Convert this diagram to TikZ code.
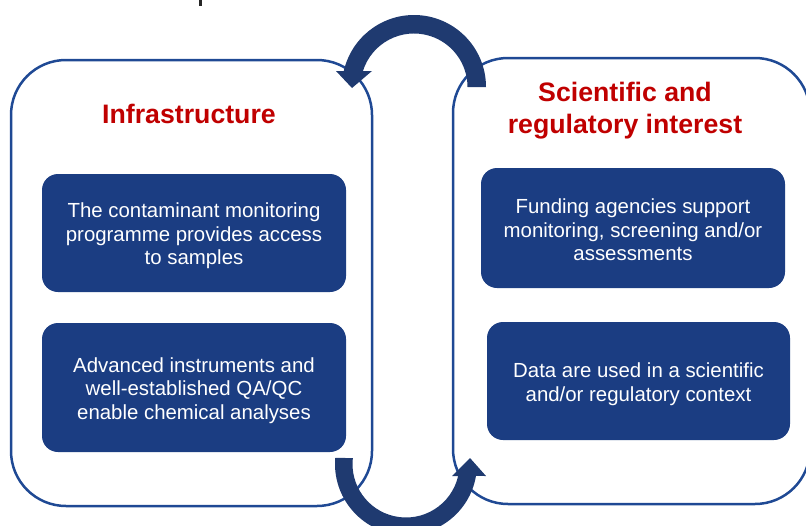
\documentclass[tikz,border=0pt]{standalone}
\usepackage{fontspec}
\setmainfont{Liberation Sans}
\usetikzlibrary{calc}
\definecolor{frameblue}{HTML}{1F4994}
\definecolor{boxblue}{HTML}{1B3D82}
\definecolor{arrowblue}{HTML}{1F3A70}
\definecolor{titlered}{HTML}{C00000}
\begin{document}
\begin{tikzpicture}[x=1pt,y=-1pt,
  frame/.style={draw=frameblue, line width=2.5pt, rounded corners=55pt, inner sep=0pt},
  infobox/.style={fill=boxblue, rounded corners=16pt, inner sep=0pt},
  infotext/.style={text=white, align=center, inner sep=0pt,
    font=\fontsize{20.4}{23.5}\selectfont},
  title/.style={text=titlered, align=center, font=\fontsize{26.7}{32}\selectfont\bfseries}]
\useasboundingbox (0,0) rectangle (806,525);
\clip (0,0) rectangle (806,525);
% outer frames
\node[frame, minimum width=361pt, minimum height=446pt] (infra) at (191.5,283) {};
\node[frame, minimum width=357pt, minimum height=446pt] (sci) at (631.5,281) {};
% titles
\node[title] (infratitle) at (189,114) {Infrastructure};
\node[title] (scititle) at (625,111) {Scientific and\\regulatory interest};
% inner boxes
\node[infobox, minimum width=304pt, minimum height=118pt] (samples) at (194,233) {};
\node[infobox, minimum width=304pt, minimum height=129pt] (instr) at (194,387.5) {};
\node[infobox, minimum width=304pt, minimum height=120pt] (funding) at (633,228) {};
\node[infobox, minimum width=303pt, minimum height=118pt] (data) at (638.5,381) {};
\node[infotext] (samplestext) at ($(samples.center)+(0,3)$)
  {The contaminant monitoring\\programme provides access\\to samples};
\node[infotext] (instrtext) at ($(instr.center)+(0,3)$)
  {Advanced instruments and\\well-established QA/QC\\enable chemical analyses};
\node[infotext] (fundingtext) at ($(funding.center)+(0,2)$)
  {Funding agencies support\\monitoring, screening and/or\\assessments};
\node[infotext] (datatext) at ($(data.center)+(0,3)$)
  {Data are used in a scientific\\and/or regulatory context};
% circular arrows
\coordinate (c1) at (414,87);
\fill[arrowblue] ($(c1)+(0:72)$) arc[start angle=0,end angle=-167.2,radius=72]
  -- (336,71) -- (352,88) -- (372,71)
  -- ($(c1)+(-162.8:53.5)$) arc[start angle=-162.8,end angle=0,radius=53.5] -- cycle;
\coordinate (c2) at (406,464);
\fill[arrowblue] ($(c2)+(184.9:71)$) arc[start angle=184.9,end angle=9.7,radius=71]
  -- (486,476) -- (470,458) -- (452,476)
  -- ($(c2)+(13:53.5)$) arc[start angle=13,end angle=186.4,radius=53.5] -- cycle;
% fragment of cut text at top
\fill[black!85] (199,0) rectangle (201.5,6);
\end{tikzpicture}
\end{document}
